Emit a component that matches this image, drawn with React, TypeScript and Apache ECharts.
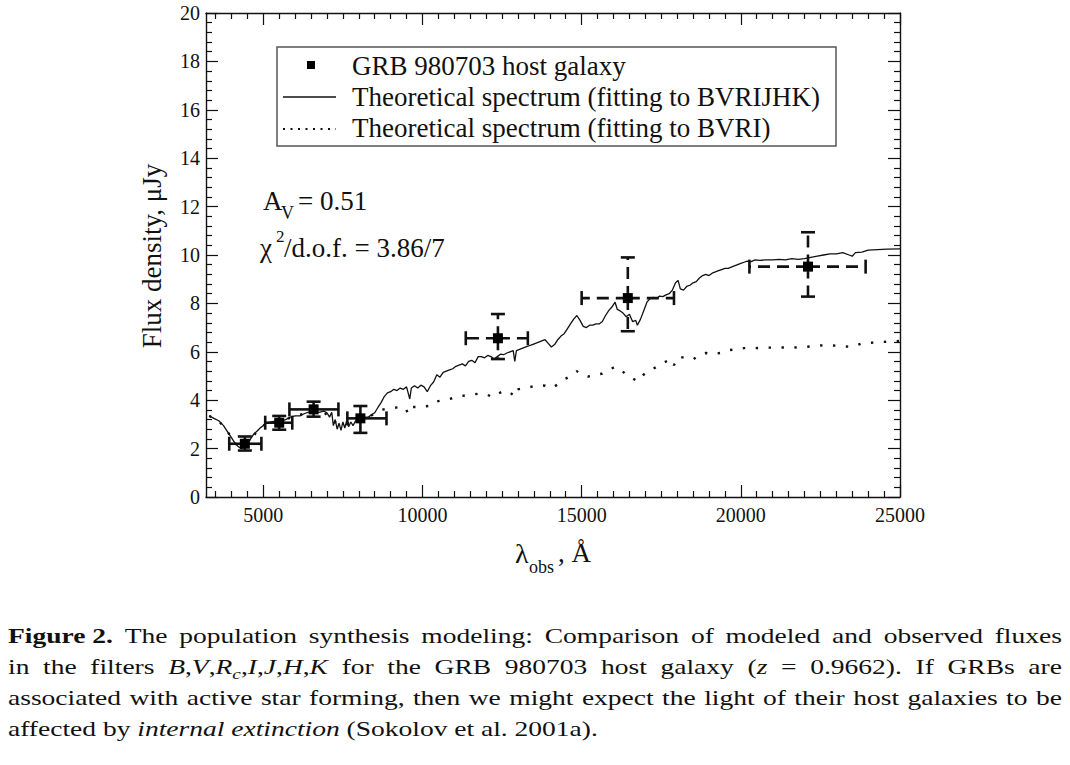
import React, { useEffect, useRef } from "react";
import * as echarts from "echarts";

// ---------- data ----------
const xMajorTicks = [5000, 10000, 15000, 20000, 25000];

// Theoretical spectrum (fitting to BVRIJHK), [wavelength Å, flux µJy]
const solidSpectrum: [number, number][] = [
  [3300, 3.35], [3450, 3.25], [3600, 3.15], [3750, 2.95], [3900, 2.65], [4000, 2.45],
  [4100, 2.25], [4200, 2.1], [4300, 2.0], [4400, 2.05], [4500, 2.15], [4600, 2.4],
  [4700, 2.6], [4800, 2.72], [4900, 2.85], [5000, 2.95], [5100, 3.05], [5250, 3.1],
  [5400, 3.15], [5550, 3.12], [5700, 3.2], [5850, 3.3], [6000, 3.35], [6150, 3.35],
  [6300, 3.45], [6450, 3.52], [6600, 3.55], [6750, 3.5], [6900, 3.55], [7000, 3.48],
  [7080, 3.3], [7150, 3.5], [7200, 2.95], [7260, 3.2], [7320, 2.8], [7380, 3.05],
  [7440, 2.75], [7500, 3.1], [7560, 2.85], [7620, 3.15], [7680, 2.9], [7750, 3.1],
  [7820, 2.95], [7900, 3.15], [8000, 3.2], [8100, 3.15], [8200, 3.3], [8300, 3.3],
  [8400, 3.4], [8500, 3.48], [8600, 3.7], [8700, 3.9], [8800, 4.15], [8900, 4.3],
  [9000, 4.35], [9100, 4.45], [9200, 4.4], [9300, 4.5], [9400, 4.45], [9500, 4.55],
  [9550, 4.3], [9600, 4.05], [9650, 4.5], [9750, 4.6], [9850, 4.5], [9950, 4.62],
  [10050, 4.55], [10150, 4.35], [10250, 4.6], [10350, 4.75], [10450, 5.05], [10550, 4.95],
  [10650, 5.15], [10750, 5.2], [10850, 5.25], [10950, 5.3], [11050, 5.4], [11150, 5.45],
  [11250, 5.5], [11350, 5.42], [11450, 5.6], [11550, 5.65], [11650, 5.55], [11750, 5.8],
  [11850, 5.8], [11950, 5.75], [12050, 5.85], [12150, 5.8], [12250, 5.7], [12350, 5.8],
  [12450, 5.9], [12550, 5.88], [12650, 5.95], [12750, 6.0], [12850, 6.05], [12900, 5.6],
  [12950, 6.05], [13050, 6.1], [13150, 6.15], [13250, 6.2], [13350, 6.25], [13450, 6.3],
  [13550, 6.35], [13650, 6.4], [13750, 6.45], [13850, 6.5], [13950, 6.35], [14050, 6.2],
  [14150, 6.3], [14250, 6.5], [14350, 6.65], [14450, 6.75], [14550, 6.95], [14650, 7.15],
  [14750, 7.35], [14850, 7.5], [14950, 7.3], [15050, 7.05], [15150, 7.0], [15250, 7.1],
  [15350, 7.1], [15450, 7.15], [15550, 7.15], [15650, 7.25], [15750, 7.5], [15850, 7.7],
  [15950, 7.85], [16050, 8.05], [16120, 7.75], [16200, 7.7], [16300, 7.6], [16400, 7.45],
  [16500, 7.55], [16600, 7.25], [16700, 7.3], [16750, 7.1], [16850, 7.35], [16950, 7.7],
  [17050, 8.05], [17150, 8.2], [17250, 8.25], [17350, 8.2], [17450, 8.3], [17550, 8.28],
  [17650, 8.35], [17750, 8.4], [17850, 8.55], [17950, 8.85], [18030, 8.95], [18100, 8.6],
  [18200, 8.55], [18300, 8.7], [18400, 8.75], [18500, 8.85], [18600, 8.9], [18700, 9.05],
  [18800, 9.15], [18900, 9.2], [19000, 9.15], [19100, 9.25], [19200, 9.3], [19300, 9.35],
  [19400, 9.4], [19500, 9.45], [19600, 9.45], [19700, 9.5], [19800, 9.55], [19900, 9.6],
  [20000, 9.65], [20100, 9.7], [20200, 9.75], [20300, 9.72], [20450, 9.8], [20600, 9.78],
  [20800, 9.8], [21000, 9.8], [21200, 9.82], [21400, 9.8], [21600, 9.85], [21800, 9.82],
  [22000, 9.85], [22200, 9.9], [22400, 9.95], [22600, 10.0], [22800, 10.05], [23000, 10.05],
  [23200, 10.1], [23400, 10.0], [23500, 9.95], [23600, 10.1], [23800, 10.12], [24000, 10.2],
  [24300, 10.22], [24600, 10.24], [25000, 10.25],
];

// Theoretical spectrum (fitting to BVRI)
const dottedSpectrum: [number, number][] = [
  [3300, 3.35], [3600, 3.15], [3900, 2.65], [4200, 2.1], [4500, 2.15], [4800, 2.72],
  [5100, 3.05], [5400, 3.15], [5700, 3.2], [6000, 3.35], [6300, 3.45], [6600, 3.55],
  [6900, 3.52], [7200, 3.1], [7500, 3.05], [7800, 3.05], [8100, 3.2], [8300, 3.3],
  [8500, 3.45], [8700, 3.6], [8900, 3.65], [9100, 3.68], [9300, 3.72], [9450, 3.7],
  [9550, 3.45], [9650, 3.72], [9800, 3.72], [9950, 3.75], [10100, 3.75], [10300, 3.78],
  [10450, 3.95], [10650, 4.0], [10850, 4.05], [11050, 4.12], [11250, 4.18], [11450, 4.22],
  [11650, 4.25], [11850, 4.28], [12050, 4.22], [12200, 4.12], [12350, 4.25], [12500, 4.35],
  [12700, 4.38], [12900, 4.15], [13000, 4.45], [13200, 4.5], [13400, 4.55], [13650, 4.62],
  [13850, 4.6], [14050, 4.5], [14250, 4.65], [14450, 4.85], [14650, 5.0], [14850, 5.2],
  [15000, 5.05], [15200, 4.98], [15450, 5.05], [15650, 5.1], [15850, 5.25], [16050, 5.38],
  [16200, 5.3], [16400, 5.05], [16600, 4.9], [16750, 4.78], [16900, 5.0], [17050, 5.18],
  [17250, 5.3], [17450, 5.45], [17650, 5.6], [17800, 5.7], [17900, 5.45], [18050, 5.8],
  [18250, 5.75], [18500, 5.68], [18700, 5.88], [18900, 5.95], [19100, 5.9], [19350, 5.95],
  [19550, 6.05], [19800, 6.1], [20100, 6.15], [20400, 6.15], [20800, 6.17], [21200, 6.18],
  [21600, 6.17], [22000, 6.2], [22400, 6.25], [22700, 6.28], [23000, 6.25], [23300, 6.22],
  [23500, 6.2], [23800, 6.35], [24200, 6.38], [24600, 6.42], [25000, 6.45],
];

// GRB 980703 host galaxy photometry (B, V, Rc, I, J, H, K)
const obsWave = [4420, 5500, 6580, 8050, 12370, 16450, 22110];
const obsFlux = [2.2, 3.07, 3.62, 3.25, 6.56, 8.22, 9.52];
const obsWaveLo = [3930, 5060, 5820, 7640, 11360, 15000, 20270];
const obsWaveHi = [4940, 5910, 7360, 8870, 13310, 17900, 23920];
const obsFluxLo = [1.92, 2.78, 3.32, 2.65, 5.7, 6.85, 8.28];
const obsFluxHi = [2.5, 3.35, 3.94, 3.76, 7.56, 9.9, 10.94];
const obsDashed = [0, 0, 0, 0, 1, 1, 1];

// ---------- helpers ----------
const EC_FONT = "Liberation Serif";
const CSS_FONT = "'Liberation Serif', serif";
const INK = "#111";

const xMinorTicks: number[] = [];
for (let v = 3500; v < 25000; v += 500) {
  if (v % 5000 !== 0) xMinorTicks.push(v);
}

const renderErrorBar = (_params: any, api: any) => {
  const x = api.value(0);
  const y = api.value(1);
  const c = api.coord([x, y]);
  const l = api.coord([api.value(2), y]);
  const r = api.coord([api.value(3), y]);
  const b = api.coord([x, api.value(4)]);
  const t = api.coord([x, api.value(5)]);
  const dash = api.value(6) === 1 ? [12, 7] : null;
  const cap = 7;
  const seg = (x1: number, y1: number, x2: number, y2: number, d: any) => ({
    type: "line",
    shape: { x1, y1, x2, y2 },
    style: { stroke: INK, lineWidth: 2.6, lineDash: d, fill: null },
  });
  return {
    type: "group",
    children: [
      seg(c[0], c[1], l[0], l[1], dash),
      seg(c[0], c[1], r[0], r[1], dash),
      seg(c[0], c[1], t[0], t[1], dash),
      seg(c[0], c[1], b[0], b[1], dash),
      seg(l[0], l[1] - cap, l[0], l[1] + cap, null),
      seg(r[0], r[1] - cap, r[0], r[1] + cap, null),
      seg(t[0] - cap, t[1], t[0] + cap, t[1], null),
      seg(b[0] - cap, b[1], b[0] + cap, b[1], null),
      { type: "rect", shape: { x: c[0] - 5, y: c[1] - 5, width: 10, height: 10 }, style: { fill: "#000" } },
    ],
  };
};

const txt = (text: string, x: number, y: number, size: number, extra: any = {}) => ({
  type: "text",
  x,
  y,
  style: {
    text,
    fontFamily: EC_FONT,
    fontSize: size,
    fill: INK,
    textAlign: "left",
    textVerticalAlign: "middle",
    ...extra,
  },
});

function Chart() {
  const ref = useRef<HTMLDivElement>(null);
  useEffect(() => {
    if (!ref.current) return;
    const chart = echarts.init(ref.current, null, { renderer: "svg" });
    const axisLine = { show: true, onZero: false, lineStyle: { color: INK, width: 1.4 } };
    const tickStyle = { color: INK, width: 1.2 };
    const baseX = { type: "value", min: 3200, max: 25000, splitLine: { show: false } };
    const errData = obsWave.map((w, i) => [
      w, obsFlux[i], obsWaveLo[i], obsWaveHi[i], obsFluxLo[i], obsFluxHi[i], obsDashed[i],
    ]);
    chart.setOption({
      animation: false,
      backgroundColor: "#fff",
      grid: { left: 206, top: 13, width: 694, height: 484 },
      xAxis: [
        {
          ...baseX,
          position: "bottom",
          axisLine,
          axisTick: { show: true, inside: true, length: 12, customValues: xMajorTicks, lineStyle: tickStyle },
          axisLabel: {
            show: true,
            customValues: xMajorTicks,
            formatter: (v: number) => String(v),
            margin: 8,
            fontFamily: EC_FONT,
            fontSize: 20,
            color: INK,
          },
        },
        {
          ...baseX,
          position: "bottom",
          axisLine: { show: false, onZero: false },
          axisTick: { show: true, inside: true, length: 6, customValues: xMinorTicks, lineStyle: tickStyle },
          axisLabel: { show: false },
        },
        {
          ...baseX,
          position: "top",
          axisLine,
          axisTick: { show: true, inside: true, length: 12, customValues: xMajorTicks, lineStyle: tickStyle },
          axisLabel: { show: false },
        },
        {
          ...baseX,
          position: "top",
          axisLine: { show: false, onZero: false },
          axisTick: { show: true, inside: true, length: 6, customValues: xMinorTicks, lineStyle: tickStyle },
          axisLabel: { show: false },
        },
      ],
      yAxis: [
        {
          type: "value",
          position: "left",
          min: 0,
          max: 20,
          interval: 2,
          splitLine: { show: false },
          axisLine,
          axisTick: { show: true, inside: true, length: 12, lineStyle: tickStyle },
          minorTick: { show: true, splitNumber: 5, length: 6, lineStyle: tickStyle },
          axisLabel: { margin: 6, fontFamily: EC_FONT, fontSize: 20, color: INK },
        },
        {
          type: "value",
          position: "right",
          min: 0,
          max: 20,
          interval: 2,
          splitLine: { show: false },
          axisLine,
          axisTick: { show: true, inside: true, length: 12, lineStyle: tickStyle },
          minorTick: { show: true, splitNumber: 5, length: 6, lineStyle: tickStyle },
          axisLabel: { show: false },
        },
      ],
      series: [
        {
          type: "line",
          name: "Theoretical spectrum (fitting to BVRI)",
          data: dottedSpectrum,
          showSymbol: false,
          silent: true,
          z: 2,
          lineStyle: { color: INK, width: 2.4, type: [2.4, 10.5] },
        },
        {
          type: "line",
          name: "Theoretical spectrum (fitting to BVRIJHK)",
          data: solidSpectrum,
          showSymbol: false,
          silent: true,
          z: 3,
          lineStyle: { color: INK, width: 1.3 },
        },
        {
          type: "custom",
          name: "GRB 980703 host galaxy",
          data: errData,
          renderItem: renderErrorBar,
          encode: { x: 0, y: 1 },
          z: 4,
          silent: true,
        },
      ],
      graphic: [
        {
          type: "rect",
          shape: { x: 277, y: 47, width: 559, height: 99 },
          style: { fill: "#fff", stroke: "#555", lineWidth: 1.5 },
          z: 10,
        },
        { type: "rect", shape: { x: 307, y: 61, width: 8, height: 8 }, style: { fill: "#000" }, z: 11 },
        {
          type: "line",
          shape: { x1: 283, y1: 97, x2: 336, y2: 97 },
          style: { stroke: INK, lineWidth: 1.3 },
          z: 11,
        },
        {
          type: "line",
          shape: { x1: 283, y1: 129, x2: 336, y2: 129 },
          style: { stroke: INK, lineWidth: 2, lineDash: [2, 5.5] },
          z: 11,
        },
        { ...txt("GRB 980703 host galaxy", 352, 66, 27), z: 11 },
        { ...txt("Theoretical spectrum (fitting to BVRIJHK)", 352, 97, 27), z: 11 },
        { ...txt("Theoretical spectrum (fitting to BVRI)", 352, 128, 27), z: 11 },
        // annotations
        txt("A", 263, 201, 27),
        txt("V", 281, 213, 18),
        txt("= 0.51", 298, 201, 27),
        txt("χ", 260, 248, 27),
        txt("2", 276, 236, 17),
        txt("/d.o.f. = 3.86/7", 284, 248, 27),
        // axis titles
        {
          type: "text",
          x: 152,
          y: 256,
          rotation: Math.PI / 2,
          style: {
            text: "Flux density, μJy",
            fontFamily: EC_FONT,
            fontSize: 27,
            fill: INK,
            textAlign: "center",
            textVerticalAlign: "middle",
          },
        },
        txt("λ", 515, 553, 28),
        txt("obs", 529, 567, 18),
        txt(", Å", 558, 553, 27),
      ],
    });
    return () => chart.dispose();
  }, []);
  return <div ref={ref} style={{ position: "absolute", left: 0, top: 0, width: 1070, height: 600 }} />;
}

const Line = ({ words }: { words: React.ReactNode[] }) => (
  <div style={{ display: "flex", justifyContent: "space-between", whiteSpace: "nowrap" }}>
    {words.map((w, i) => (
      <span key={i}>{w}</span>
    ))}
  </div>
);

const SCALE = 1.25;

function Caption() {
  const mathList = (
    <span>
      <i>B</i>,<i>V</i>,<i>R</i>
      <span style={{ fontSize: "0.7em", lineHeight: 0, position: "relative", top: "0.3em" }}>
        <i>c</i>
      </span>
      ,<i>I</i>,<i>J</i>,<i>H</i>,<i>K</i>
    </span>
  );
  return (
    <div
      style={{
        position: "absolute",
        left: 8,
        top: 620,
        width: 1054 / SCALE,
        transform: `scaleX(${SCALE})`,
        transformOrigin: "0 0",
        fontFamily: CSS_FONT,
        fontSize: 22,
        lineHeight: "31px",
        color: INK,
      }}
    >
      <Line
        words={[
          <b>Figure 2.</b>,
          "The", "population", "synthesis", "modeling:", "Comparison", "of", "modeled", "and", "observed", "fluxes",
        ]}
      />
      <Line
        words={[
          "in", "the", "filters", mathList, "for", "the", "GRB", "980703", "host", "galaxy",
          <span>(<i>z</i></span>, "=", "0.9662).", "If", "GRBs", "are",
        ]}
      />
      <Line
        words={[
          "associated", "with", "active", "star", "forming,", "then", "we", "might", "expect", "the",
          "light", "of", "their", "host", "galaxies", "to", "be",
        ]}
      />
      <div style={{ whiteSpace: "nowrap" }}>
        affected by <i>internal extinction</i> (Sokolov et al. 2001a).
      </div>
    </div>
  );
}

export default function App() {
  return (
    <div style={{ position: "relative", width: 1070, height: 765, background: "#fff", overflow: "hidden" }}>
      <style>{`body{margin:0;background:#fff;}`}</style>
      <Chart />
      <Caption />
    </div>
  );
}
